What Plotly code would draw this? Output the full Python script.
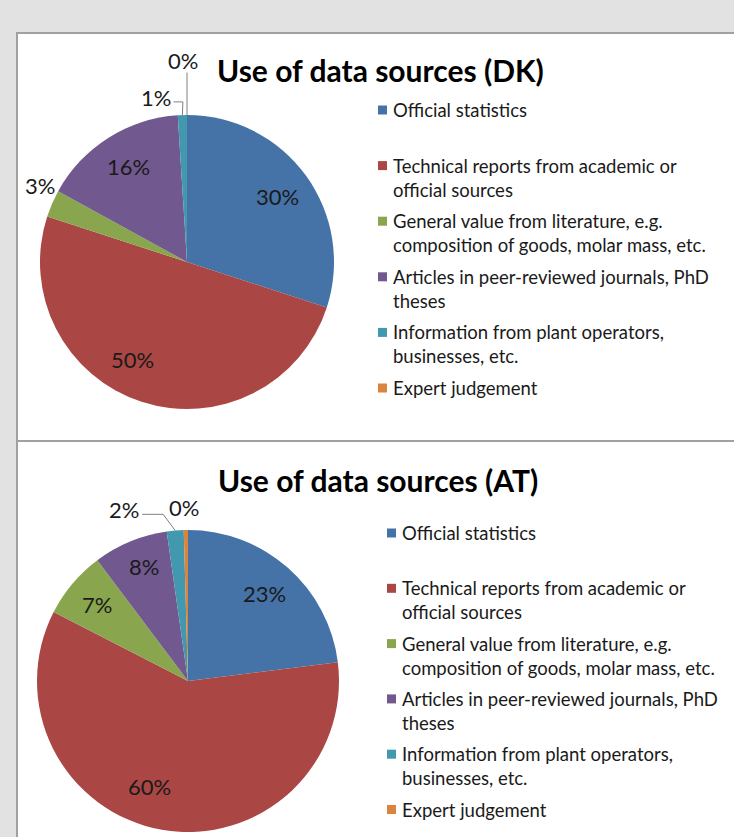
import math
import plotly.graph_objects as go

W, H = 734, 837

# ---------------- data ----------------
categories = [
    "Official statistics",
    "Technical reports from academic or official sources",
    "General value from literature, e.g. composition of goods, molar mass, etc.",
    "Articles in peer-reviewed journals, PhD theses",
    "Information from plant operators, businesses, etc.",
    "Expert judgement",
]
legend_lines = [
    ["Official statistics"],
    ["Technical reports from academic or", "official sources"],
    ["General value from literature, e.g.", "composition of goods, molar mass, etc."],
    ["Articles in peer-reviewed journals, PhD", "theses"],
    ["Information from plant operators,", "businesses, etc."],
    ["Expert judgement"],
]
dk_values = [30, 50, 3, 16, 1, 0]
at_values = [23, 59.5, 7.2, 8.0, 1.8, 0.45]
dk_title = "Use of data sources (DK)"
at_title = "Use of data sources (AT)"

# ---------------- styles ----------------
colors = ["#4572A7", "#AA4643", "#89A54E", "#71588F", "#4198AF", "#DB843D"]
FONT = "Lato"
BG = "#e2e2e2"
BORDER = "#a0a0a0"
LEADER = "#808080"

# per-slice label placement: (radius factor, angle shift deg, leader type, elbow dx)
dk_label_style = [(0.76, 0, None, 0), (0.76, 11, None, 0), (1.13, 4, None, 0),
                  (0.76, 1, None, 0), (1.14, -9, "elbow", 0.5), (1.37, -1, "vertical", 0)]
at_label_style = [(0.77, 0, None, 0), (0.74, 10, None, 0), (0.79, 0, None, 0),
                  (0.81, 1.5, None, 0), (1.21, -15.6, "elbow", -12), (1.15, -0.6, None, 0)]

charts = [
    dict(values=dk_values, title=dk_title, cx=187, cy=262, R=147,
         title_xy=(380, 70), legend_x=378, legend_y0=110, slot=55.6,
         style=dk_label_style),
    dict(values=at_values, title=at_title, cx=188, cy=681, R=151,
         title_xy=(378, 480), legend_x=387, legend_y0=533, slot=55.3,
         style=at_label_style),
]


def px(x):
    return x / W


def py(y):
    return 1 - y / H


fig = go.Figure()
shapes = []
annotations = []

# panels
shapes.append(dict(type="rect", xref="paper", yref="paper", layer="below",
                   x0=px(17), x1=px(760), y0=py(441), y1=py(33),
                   fillcolor="white", line=dict(color=BORDER, width=2)))
shapes.append(dict(type="rect", xref="paper", yref="paper", layer="below",
                   x0=px(17), x1=px(760), y0=py(880), y1=py(441),
                   fillcolor="white", line=dict(color=BORDER, width=2)))

LABEL_FS = 22
LEG_FS = 18.5
TITLE_FS = 30

for ch in charts:
    vals = ch["values"]
    cx, cy, R = ch["cx"], ch["cy"], ch["R"]
    fig.add_trace(go.Pie(
        labels=categories, values=vals, sort=False, direction="clockwise",
        rotation=0, textinfo="none", showlegend=False,
        marker=dict(colors=colors, line=dict(width=0)),
        domain=dict(x=[px(cx - R), px(cx + R)], y=[py(cy + R), py(cy - R)]),
        hovertemplate="%{label}: %{percent}<extra></extra>",
    ))
    total = sum(vals)
    cum = 0
    for i, v in enumerate(vals):
        mid = (cum + v / 2) / total * 360
        cum += v
        rf, shift, leader, edx = ch["style"][i]
        a = math.radians(mid + shift)
        lx = cx + rf * R * math.sin(a)
        ly = cy - rf * R * math.cos(a)
        txt = f"{round(v / total * 100):.0f}%"
        annotations.append(dict(x=px(lx), y=py(ly), xref="paper", yref="paper",
                                xanchor="center", yanchor="middle",
                                text=txt, showarrow=False,
                                font=dict(family=FONT, size=LABEL_FS, color="#1a1a1a")))
        am = math.radians(mid)
        sx = cx + R * math.sin(am)
        sy = cy - R * math.cos(am)
        if leader == "elbow":
            ex, ey = lx + 18, ly + 4.5
            path = (f"M {px(sx)},{py(sy)} L {px(sx + edx)},{py(ey)} "
                    f"L {px(ex)},{py(ey)}")
            shapes.append(dict(type="path", xref="paper", yref="paper", path=path,
                               line=dict(color=LEADER, width=1)))
        elif leader == "vertical":
            shapes.append(dict(type="line", xref="paper", yref="paper",
                               x0=px(sx), x1=px(sx), y0=py(sy), y1=py(ly + 12),
                               line=dict(color=LEADER, width=1)))
    # title
    tx, ty = ch["title_xy"]
    annotations.append(dict(x=px(tx), y=py(ty), xref="paper", yref="paper",
                            xanchor="center", yanchor="middle",
                            text=f"<b>{ch['title']}</b>", showarrow=False,
                            font=dict(family=FONT, size=TITLE_FS, color="black")))
    # legend
    for i, lines in enumerate(legend_lines):
        yc = ch["legend_y0"] + i * ch["slot"]
        lx0 = ch["legend_x"]
        shapes.append(dict(type="rect", xref="paper", yref="paper",
                           x0=px(lx0), x1=px(lx0 + 9), y0=py(yc + 4.5), y1=py(yc - 4.5),
                           fillcolor=colors[i], line=dict(width=0)))
        annotations.append(dict(x=px(lx0 + 13), y=py(yc - 13), xref="paper", yref="paper",
                                xanchor="left", yanchor="top", align="left",
                                text="<br>".join(lines), showarrow=False,
                                font=dict(family=FONT, size=LEG_FS, color="#1a1a1a")))

fig.update_layout(
    width=W, height=H, margin=dict(l=0, r=0, t=0, b=0),
    paper_bgcolor=BG, plot_bgcolor=BG,
    shapes=shapes, annotations=annotations,
    font=dict(family=FONT),
)

fig.write_html("out.html", config={"displayModeBar": False},
               post_script="document.body.style.margin='0';")
